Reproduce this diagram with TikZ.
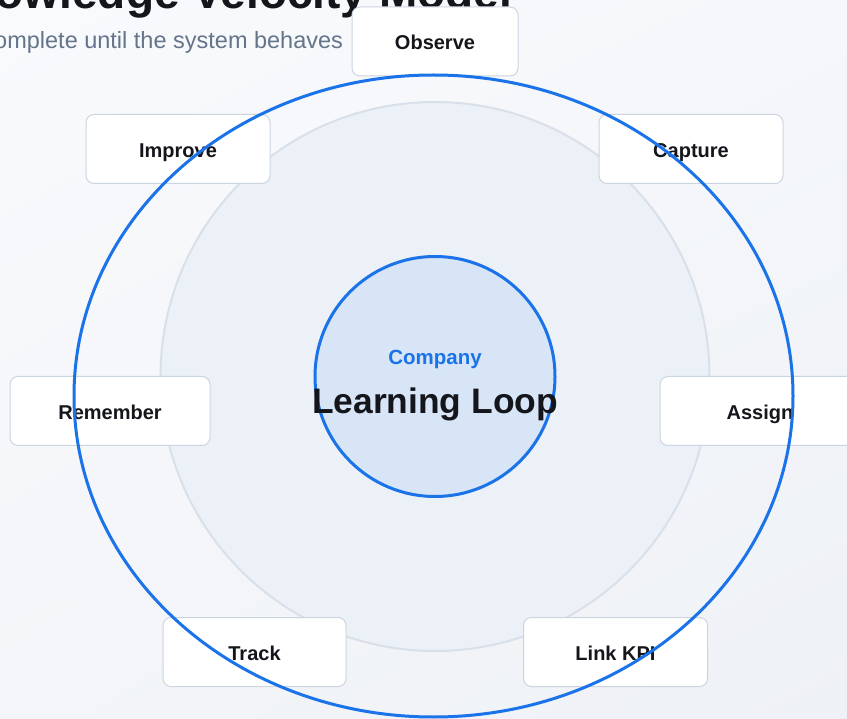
\documentclass[tikz,border=0pt]{standalone}
\usepackage{fontspec}
\setmainfont{Liberation Sans}
\usetikzlibrary{shadings}
\definecolor{pagetl}{HTML}{F9FAFC}
\definecolor{pagetr}{HTML}{F5F7FA}
\definecolor{pagebl}{HTML}{F3F5F8}
\definecolor{pagebr}{HTML}{EEF1F6}
\definecolor{ink}{HTML}{14161C}
\definecolor{muted}{HTML}{64748B}
\definecolor{boxline}{HTML}{CBD5E1}
\definecolor{ringfill}{HTML}{ECF1F8}
\definecolor{ringline}{HTML}{D9E0EA}
\definecolor{corefill}{HTML}{D7E5F6}
\definecolor{loopblue}{HTML}{1A73E8}
\begin{document}
\begin{tikzpicture}[x=1pt,y=-1pt,
  stagebox/.style={draw=boxline, line width=1pt, fill=white, rounded corners=8pt,
    minimum height=69pt, inner sep=0pt, text=ink,
    font=\fontsize{20}{24}\selectfont\bfseries, text height=17pt, text depth=0pt},
  plain/.style={inner sep=0pt, outer sep=0pt}
]
% page and background
\useasboundingbox (0,0) rectangle (847,719);
\shade[upper left=pagetl, upper right=pagetr, lower left=pagebl, lower right=pagebr]
  (0,0) rectangle (847,719);

% heading
\node[plain, anchor=base east, text=ink, font=\fontsize{46}{52}\selectfont\bfseries]
  (heading) at (512,9) {Knowledge Velocity Model};
\node[plain, anchor=base east, text=muted, font=\fontsize{23.5}{28}\selectfont]
  (subheading) at (343,48.5) {complete until the system behaves};

% orbit ring and core
\node[circle, draw=ringline, line width=2pt, fill=ringfill, minimum size=549pt, inner sep=0pt]
  (orbit) at (435,376.5) {};
\node[circle, draw=loopblue, line width=3pt, fill=corefill, minimum size=240pt, inner sep=0pt]
  (core) at (435,376.5) {};

% stages
\node[stagebox, minimum width=166pt] (observe)  at (435,41.5)  {Observe};
\node[stagebox, minimum width=184pt] (improve)  at (178,149)   {Improve};
\node[stagebox, minimum width=184pt] (capture)  at (691,149)   {Capture};
\node[stagebox, minimum width=200pt] (remember) at (110,411)   {Remember};
\node[stagebox, minimum width=200pt] (assign)   at (760,411)   {Assign};
\node[stagebox, minimum width=183pt] (track)    at (254.5,652) {Track};
\node[stagebox, minimum width=184pt] (linkkpi)  at (615.5,652) {Link KPI};

% loop path through the stages
\draw[loopblue, line width=3pt] (433.5,396) ellipse [x radius=359.5pt, y radius=321pt];

% core labels
\node[plain, anchor=base, text=loopblue, font=\fontsize{20.5}{24}\selectfont\bfseries]
  (company) at (435,365) {Company};
\node[plain, anchor=base, text=ink, font=\fontsize{35.4}{40}\selectfont\bfseries]
  (looptitle) at (435,413.5) {Learning Loop};
\end{tikzpicture}
\end{document}
